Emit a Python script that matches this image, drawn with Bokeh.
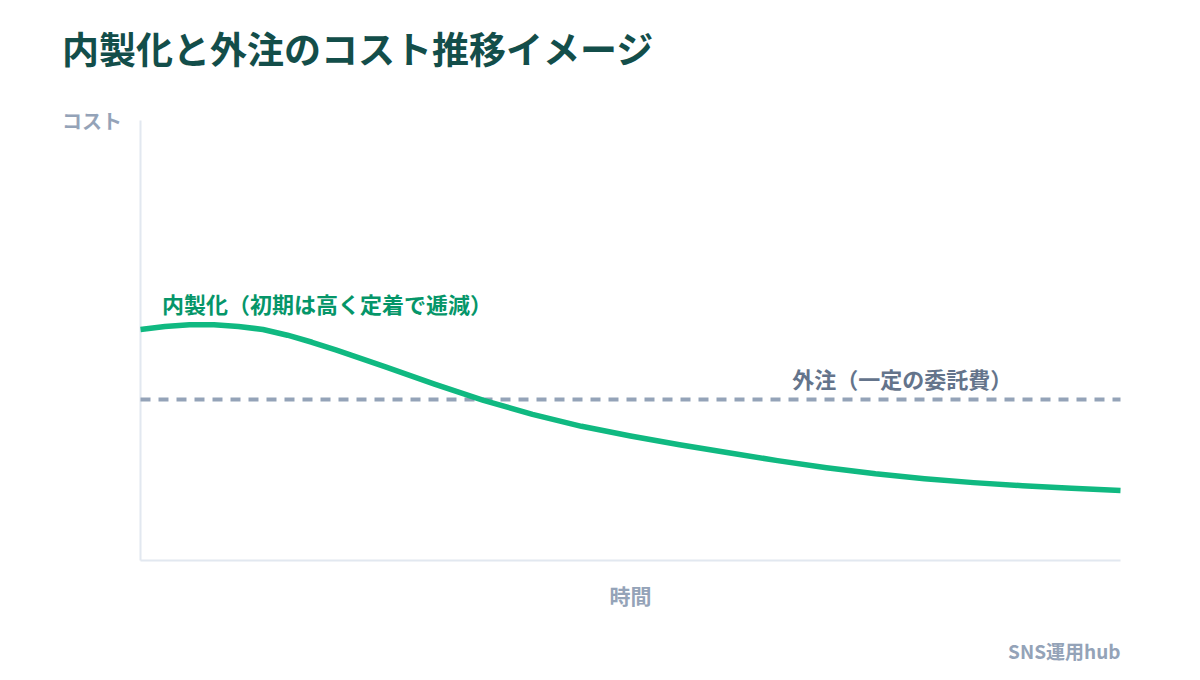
from bokeh.plotting import figure
from bokeh.models import Range1d, Label
from bokeh.embed import file_html
from bokeh.resources import INLINE

# ---- data ----
time_pts = [0, 2.5, 5, 7.5, 10, 12.5, 15, 17.5, 20, 25, 30, 35, 40, 45, 50, 55, 60, 65,
            70, 75, 80, 85, 90, 95, 100]
inhouse_cost = [52.5, 53.2, 53.6, 53.6, 53.2, 52.5, 51.2, 49.6, 47.8, 44.0, 40.1, 36.4,
                33.2, 30.5, 28.3, 26.3, 24.5, 22.7, 21.1, 19.7, 18.6, 17.7, 17.0, 16.4, 15.9]
outsource_x = [0, 100]
outsource_cost = [36.6, 36.6]

title_text = "内製化と外注のコスト推移イメージ"
y_label = "コスト"
x_label = "時間"
inhouse_label = "内製化（初期は高く定着で逓減）"
outsource_label = "外注（一定の委託費）"
footer = "SNS運用hub"

FONT = "Noto Sans CJK JP"

W, H = 1184, 664
# plot area: x 0..100 spans px 140..1120, y 0..100 spans px 560..120
PX_X = 9.8
PX_Y = 4.4
x_range = Range1d(-140 / PX_X, (W - 140) / PX_X)
y_range = Range1d(-(H - 560) / PX_Y, 560 / PX_Y)

p = figure(width=W, height=H, output_backend="svg", toolbar_location=None,
           x_range=x_range, y_range=y_range,
           min_border=0, min_border_left=0, min_border_right=0,
           min_border_top=0, min_border_bottom=0)
p.axis.visible = False
p.background_fill_color = "white"
p.border_fill_color = "white"
p.outline_line_color = None
p.grid.visible = False

# axis lines
p.line([0, 0], [0, 100], line_color="#e2e8f0", line_width=2)
p.line([0, 100], [0, 0], line_color="#e2e8f0", line_width=2)

p.line(outsource_x, outsource_cost, line_color="#94a3b8", line_width=4, line_dash="10 8")
p.line(time_pts, inhouse_cost, line_color="#10b981", line_width=5.5, line_join="round")

def lab(text, x, y, size, color, bold=True, align="left"):
    p.add_layout(Label(x=x, y=y, text=text, text_font=FONT, text_font_size=size,
                       text_color=color, text_font_style="bold" if bold else "normal",
                       text_align=align, text_baseline="middle"))

lab(title_text, -8.0, 116.4, "37px", "#134e4a")
lab(y_label, -8.0, 100.0, "20px", "#94a3b8")
lab(x_label, 50.0, -7.9, "21px", "#94a3b8", align="center")
lab(footer, 100.0, -20.5, "19px", "#94a3b8", align="right")
lab(inhouse_label, 2.2, 58.6, "22px", "#059669")
lab(outsource_label, 66.5, 41.4, "22px", "#64748b")

open("out.html", "w").write(file_html(p, INLINE))
